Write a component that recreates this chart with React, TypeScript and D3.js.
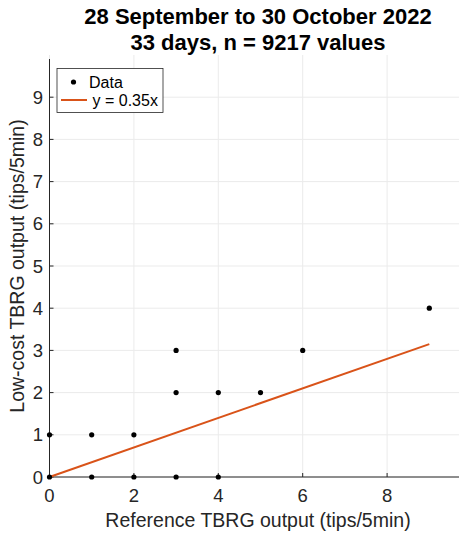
import React from "react";
import * as d3 from "d3";

const refX = [0, 0, 1, 1, 2, 2, 3, 3, 3, 4, 4, 5, 6, 9];
const lowY = [0, 1, 0, 1, 0, 1, 0, 2, 3, 0, 2, 2, 3, 4];
const slope = 0.35;
const fitX = [0, 9];
const xTicks = [0, 2, 4, 6, 8];
const yTicks = [0, 1, 2, 3, 4, 5, 6, 7, 8, 9];
const titleLines = ["28 September to 30 October 2022", "33 days, n = 9217 values"];

export default function App() {
  const W = 459, H = 533;
  const left = 49.5, right = 471.5, top = 55, bottom = 477;
  const x = d3.scaleLinear().domain([0, 10]).range([left, right]);
  const y = d3.scaleLinear().domain([0, 10]).range([bottom, top]);
  const line = d3.line<number>().x((d) => x(d)).y((d) => y(slope * d));
  const font = "'Liberation Sans', Arial, Helvetica, sans-serif";
  const tc = "#262626";
  return (
    <svg width={W} height={H} style={{ position: "absolute", left: 0, top: 0, background: "#fff" }} fontFamily={font}>
      <rect width={W} height={H} fill="#fff" />
      {xTicks.concat([10]).map((t) => (
        <line key={"gx" + t} x1={x(t)} x2={x(t)} y1={top} y2={bottom} stroke="#ebebeb" strokeWidth={1} />
      ))}
      {yTicks.map((t) => (
        <line key={"gy" + t} x1={left} x2={right} y1={y(t)} y2={y(t)} stroke="#ebebeb" strokeWidth={1} />
      ))}
      <line x1={left} x2={left} y1={top + 4} y2={bottom} stroke={tc} strokeWidth={1} />
      <line x1={left} x2={right} y1={bottom} y2={bottom} stroke={tc} strokeWidth={1} />
      {xTicks.map((t) => (
        <g key={"tx" + t}>
          <line x1={x(t)} x2={x(t)} y1={bottom} y2={bottom - 4} stroke={tc} />
          <text x={x(t)} y={bottom + 25} textAnchor="middle" fontSize={18.5} fill={tc}>{t}</text>
        </g>
      ))}
      {yTicks.map((t) => (
        <g key={"ty" + t}>
          <line x1={left} x2={left + 4} y1={y(t)} y2={y(t)} stroke={tc} />
          <text x={43} y={y(t) + 6.5} textAnchor="end" fontSize={18.5} fill={tc}>{t}</text>
        </g>
      ))}
      <path d={line(fitX) || ""} fill="none" stroke="#D95319" strokeWidth={2} />
      {refX.map((v, i) => (
        <circle key={"p" + i} cx={x(v)} cy={y(lowY[i])} r={2.6} fill="#000" />
      ))}
      <text x={258} y={527} textAnchor="middle" fontSize={19.5} fill={tc}>Reference TBRG output (tips/5min)</text>
      <text transform={`translate(24,${(top + bottom) / 2}) rotate(-90)`} textAnchor="middle" fontSize={19.5} fill={tc}>Low-cost TBRG output (tips/5min)</text>
      {titleLines.map((s, i) => (
        <text key={"t" + i} x={258} y={24 + i * 26} textAnchor="middle" fontSize={22} fontWeight="bold" fill="#000">{s}</text>
      ))}
      <g>
        <rect x={57} y={68.5} width={106} height={44} fill="#fff" stroke="#262626" strokeWidth={0.8} />
        <circle cx={73.5} cy={82} r={2.6} fill="#000" />
        <text x={89} y={88} fontSize={16} fill="#000">Data</text>
        <line x1={61} x2={87} y1={100} y2={100} stroke="#D95319" strokeWidth={2} />
        <text x={92.5} y={106} fontSize={16} fill="#000">y = 0.35x</text>
      </g>
    </svg>
  );
}
